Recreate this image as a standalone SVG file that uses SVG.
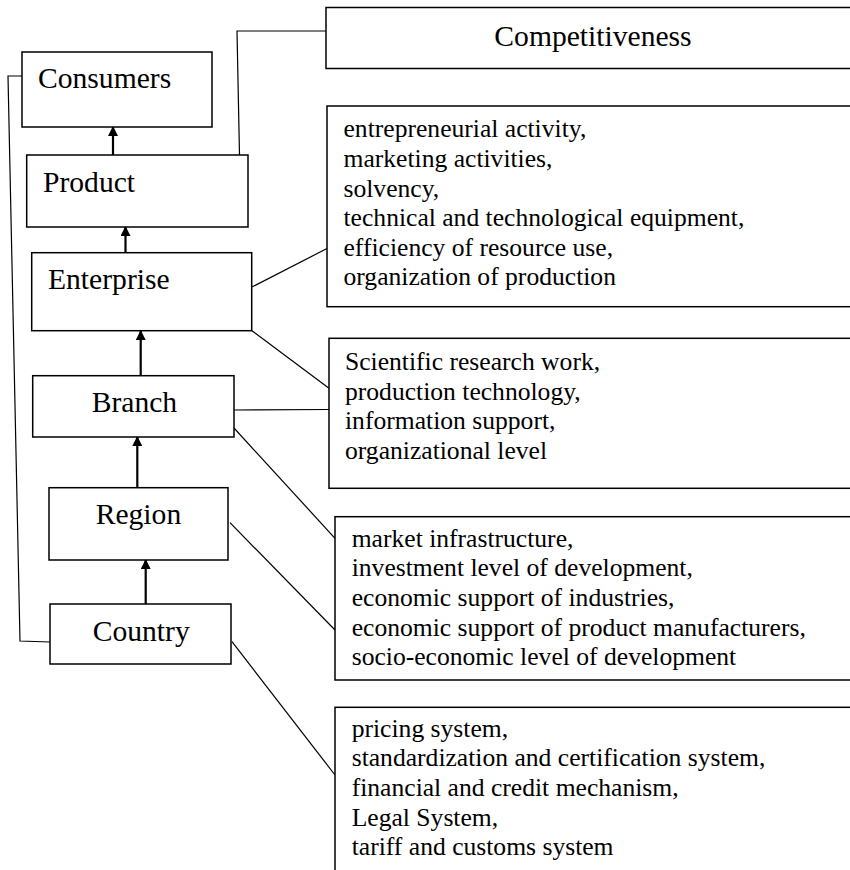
<svg xmlns="http://www.w3.org/2000/svg" width="850" height="870" viewBox="0 0 850 870">
<style>
.box{fill:#fff;stroke:#000;stroke-width:1.5}
.lbl{font-family:"Liberation Serif","Times New Roman",serif;font-size:29.6px;fill:#000}
.lst{font-family:"Liberation Serif","Times New Roman",serif;font-size:25.6px;fill:#000}
.con{fill:none;stroke:#000;stroke-width:1.2}
.arr{fill:none;stroke:#000;stroke-width:2.2}
</style>
<defs>
<marker id="ah" viewBox="0 0 10 10" refX="10" refY="5" markerWidth="10" markerHeight="10" markerUnits="userSpaceOnUse" orient="auto">
<path d="M0,0 L10,5 L0,10 Z" fill="#000"/>
</marker>
</defs>
<rect width="850" height="870" fill="#fff"/>
<g id="connectors">
<polyline class="con" points="326.5,31 237,31 239.5,155"/>
<polyline class="con" points="22,76 8,76 20,641 50,642"/>
<line class="con" x1="252" y1="287" x2="327" y2="248.5"/>
<line class="con" x1="252" y1="330.7" x2="329" y2="388.3"/>
<line class="con" x1="234" y1="410" x2="329" y2="409.5"/>
<line class="con" x1="234" y1="428" x2="335" y2="538.3"/>
<line class="con" x1="230" y1="522.7" x2="335" y2="630"/>
<line class="con" x1="232" y1="641.7" x2="335" y2="775"/>
<line class="arr" x1="113" y1="155" x2="113" y2="126" marker-end="url(#ah)"/>
<line class="arr" x1="125.5" y1="252.7" x2="125.5" y2="226" marker-end="url(#ah)"/>
<line class="arr" x1="140.7" y1="375.7" x2="140.7" y2="330" marker-end="url(#ah)"/>
<line class="arr" x1="137.3" y1="487.7" x2="137.3" y2="436" marker-end="url(#ah)"/>
<line class="arr" x1="145.7" y1="604" x2="145.7" y2="559" marker-end="url(#ah)"/>
</g>
<g id="consumers"><rect class="box" x="22" y="52" width="190" height="75"/><text class="lbl" x="38" y="88">Consumers</text></g>
<g id="product"><rect class="box" x="26.7" y="155" width="221.3" height="72"/><text class="lbl" x="43" y="192">Product</text></g>
<g id="enterprise"><rect class="box" x="31.7" y="252.7" width="220" height="78"/><text class="lbl" x="48" y="289">Enterprise</text></g>
<g id="branch"><rect class="box" x="32.7" y="375.7" width="201.3" height="61.3"/><text class="lbl" x="91.7" y="411.7">Branch</text></g>
<g id="region"><rect class="box" x="49" y="487.7" width="179" height="72.3"/><text class="lbl" x="95.7" y="524">Region</text></g>
<g id="country"><rect class="box" x="50" y="604" width="181" height="60"/><text class="lbl" x="92.7" y="641">Country</text></g>
<g id="competitiveness"><rect class="box" x="326" y="7.5" width="530" height="61"/><text class="lbl" x="593" y="46" text-anchor="middle">Competitiveness</text></g>
<g id="enterprise-factors"><rect class="box" x="327" y="106" width="529" height="200.7"/>
<text class="lst" x="343.5" y="137.3">entrepreneurial activity,</text>
<text class="lst" x="343.5" y="166.9">marketing activities,</text>
<text class="lst" x="343.5" y="196.5">solvency,</text>
<text class="lst" x="343.5" y="226.1">technical and technological equipment,</text>
<text class="lst" x="343.5" y="255.7">efficiency of resource use,</text>
<text class="lst" x="343.5" y="285.3">organization of production</text>
</g>
<g id="branch-factors"><rect class="box" x="329" y="338.3" width="527" height="150"/>
<text class="lst" x="345" y="370">Scientific research work,</text>
<text class="lst" x="345" y="399.5">production technology,</text>
<text class="lst" x="345" y="429">information support,</text>
<text class="lst" x="345" y="458.5">organizational level</text>
</g>
<g id="region-factors"><rect class="box" x="335" y="516.7" width="521" height="163.3"/>
<text class="lst" x="351.7" y="546.7">market infrastructure,</text>
<text class="lst" x="351.7" y="576.3">investment level of development,</text>
<text class="lst" x="351.7" y="605.9">economic support of industries,</text>
<text class="lst" x="351.7" y="635.5">economic support of product manufacturers,</text>
<text class="lst" x="351.7" y="665.1">socio-economic level of development</text>
</g>
<g id="country-factors"><rect class="box" x="335" y="707.3" width="521" height="175"/>
<text class="lst" x="351.7" y="736.7">pricing system,</text>
<text class="lst" x="351.7" y="766.3">standardization and certification system,</text>
<text class="lst" x="351.7" y="795.9">financial and credit mechanism,</text>
<text class="lst" x="351.7" y="825.5">Legal System,</text>
<text class="lst" x="351.7" y="855.1">tariff and customs system</text>
</g>
</svg>
